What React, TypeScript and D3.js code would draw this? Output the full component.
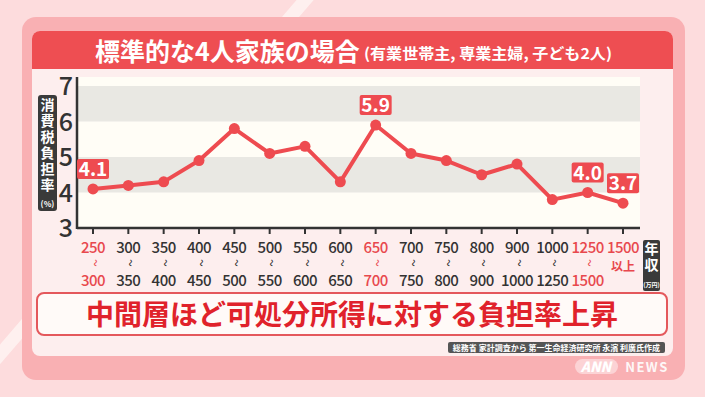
import React from "react";
import * as d3 from "d3";

// income brackets (万円) and consumption-tax burden (%)
const lowBounds = ["250", "300", "350", "400", "450", "500", "550", "600", "650", "700", "750", "800", "900", "1000", "1250", "1500"];
const highBounds = ["300", "350", "400", "450", "500", "550", "600", "650", "700", "750", "800", "900", "1000", "1250", "1500", "以上"];
const burden = [4.1, 4.2, 4.3, 4.9, 5.8, 5.1, 5.3, 4.3, 5.9, 5.1, 4.9, 4.5, 4.8, 3.8, 4.0, 3.7];
const highlighted = ["250", "650", "1250", "1500"];
const yTicks = [3, 4, 5, 6, 7];
const bands = [[6, 7], [4, 5]];

const W = 705;
const H = 397;
const FONT = "'Noto Sans CJK JP', 'Noto Sans', sans-serif";
const RED = "#ee4b50";
const DARK = "#333";

export default function App() {
  const x = d3.scalePoint<string>().domain(lowBounds).range([93, 623]);
  const y = d3.scaleLinear().domain([3, 7]).range([228, 86]);
  const line = d3.line<number>().x((_, i) => x(lowBounds[i])!).y(d => y(d));

  const plotLeft = 77;
  const plotRight = 640;

  return (
    <svg width={W} height={H} style={{ position: "absolute", left: 0, top: 0 }} fontFamily={FONT}>
      {/* background + decoration */}
      <rect width={W} height={H} fill="#fddcdd" />
      <line x1={-10} y1={366} x2={312} y2={-8} stroke="#fff3f1" strokeWidth={13} opacity={0.9} />
      <rect x={22} y={17} width={663} height={363} rx={14} fill="#f9b0b3" />
      <path d="M32,39 a8,8 0 0 1 8,-8 h625 a8,8 0 0 1 8,8 v309 a8,8 0 0 1 -8,8 h-625 a8,8 0 0 1 -8,-8 z" fill="#fdeeee" />
      <path d="M32,39 a8,8 0 0 1 8,-8 h625 a8,8 0 0 1 8,8 v30 h-641 z" fill="#ee4e52" />

      {/* title */}
      <text x={95} y={61} fill="#fff" fontSize={25} fontWeight={700}>標準的な4人家族の場合</text>
      <text x={364} y={59} fill="#fff" fontSize={15} fontWeight={700} textLength={248} lengthAdjust="spacingAndGlyphs">(有業世帯主, 専業主婦, 子ども2人)</text>

      {/* plot area */}
      <rect x={plotLeft} y={77} width={plotRight - plotLeft} height={151} fill="#fffdf6" />
      {bands.map(([a, b]) => (
        <rect key={a} x={plotLeft} y={y(b)} width={plotRight - plotLeft} height={y(a) - y(b)} fill="#e9e8e3" />
      ))}

      {/* y axis */}
      {yTicks.map(t => (
        <text key={t} x={66} y={y(t) + 9} textAnchor="middle" fontSize={25} fontWeight={500} fill={DARK}>{t}</text>
      ))}
      <rect x={38} y={95} width={19} height={116} rx={3} fill="#3a3a3a" />
      <text x={47.5} y={98} writingMode="vertical-rl" fontSize={14} fontWeight={700} letterSpacing={2} fill="#fff">消費税負担率</text>
      <text x={47.5} y={207} textAnchor="middle" fontSize={8} fontWeight={700} fill="#fff">(%)</text>

      {/* x axis */}
      {lowBounds.map((c, i) => {
        const cx = x(c)!;
        const col = highlighted.includes(c) ? "#e8484d" : DARK;
        const last = highBounds[i] === "以上";
        return (
          <g key={c}>
            <line x1={cx} x2={cx} y1={228} y2={234} stroke={DARK} strokeWidth={2} />
            <text x={cx} y={253} textAnchor="middle" fontSize={15} fontWeight={500} letterSpacing={-0.5} fill={col}>{c}</text>
            {last ? (
              <text x={cx} y={271} textAnchor="middle" fontSize={12} fontWeight={700} fill={col}>{highBounds[i]}</text>
            ) : (
              <>
                <text transform={`translate(${cx - 3.5},263) rotate(90)`} textAnchor="middle" fontSize={14} fill={col}>~</text>
                <text x={cx} y={286} textAnchor="middle" fontSize={15} fontWeight={500} letterSpacing={-0.5} fill={col}>{highBounds[i]}</text>
              </>
            )}
          </g>
        );
      })}
      <line x1={plotLeft} x2={plotRight} y1={228} y2={228} stroke={DARK} strokeWidth={2.5} />
      <line x1={plotLeft} x2={plotLeft} y1={77} y2={229} stroke={DARK} strokeWidth={2.5} />

      <rect x={643} y={240} width={17} height={51} rx={2} fill="#3a3a3a" />
      <text x={651.5} y={242} writingMode="vertical-rl" fontSize={14} fontWeight={700} letterSpacing={2} fill="#fff">年収</text>
      <text x={651.5} y={287} textAnchor="middle" fontSize={6} fontWeight={700} fill="#fff">(万円)</text>

      {/* series */}
      <path d={line(burden) ?? ""} fill="none" stroke={RED} strokeWidth={4} strokeLinejoin="round" />
      {burden.map((v, i) => (
        <circle key={i} cx={x(lowBounds[i])!} cy={y(v)} r={5.5} fill={RED} />
      ))}
      {burden.map((v, i) => {
        if (!highlighted.includes(lowBounds[i])) return null;
        const cx = x(lowBounds[i])!;
        const cy = y(v) - 20;
        return (
          <g key={"l" + i}>
            <rect x={cx - 16} y={cy - 10} width={32} height={20} rx={2} fill={RED} />
            <text x={cx} y={cy + 7} textAnchor="middle" fontSize={19} fontWeight={700} fill="#fff">{v.toFixed(1)}</text>
          </g>
        );
      })}

      {/* message */}
      <rect x={37} y={293} width={630} height={42} rx={7} fill="#fffaf8" stroke="#e4585c" strokeWidth={2} />
      <text x={352} y={325} textAnchor="middle" fontSize={28} fontWeight={700} fill="#e0222b">中間層ほど可処分所得に対する負担率上昇</text>

      {/* source */}
      <rect x={448} y={342} width={217} height={11} rx={2} fill="#555" />
      <text x={556.5} y={350.5} textAnchor="middle" fontSize={8} fontWeight={700} fill="#fff">総務省 家計調査から 第一生命経済研究所 永濱 利廣氏作成</text>

      {/* logo */}
      <rect x={575} y={359} width={43} height={15} rx={7.5} fill="#fff" opacity={0.45} />
      <text x={596} y={371.5} textAnchor="middle" fontSize={14} fontWeight={900} fontStyle="italic" fill="#fff">ANN</text>
      <text x={647} y={372} textAnchor="middle" fontSize={13} fontWeight={700} letterSpacing={1.5} fill="#fff" opacity={0.9}>NEWS</text>
    </svg>
  );
}
